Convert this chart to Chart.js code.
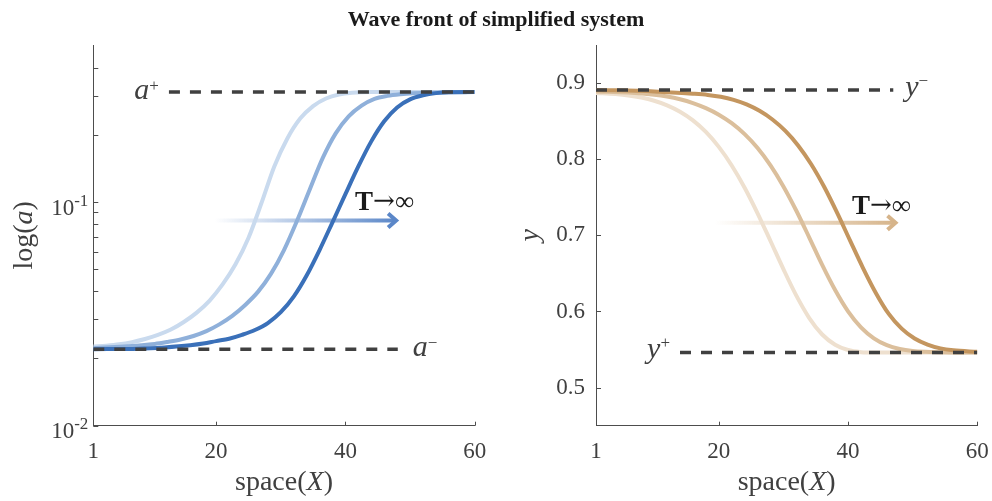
<!DOCTYPE html>
<html>
<head>
<meta charset="utf-8">
<script src="https://cdn.jsdelivr.net/npm/chart.js@4.4.1/dist/chart.umd.min.js"></script>
<style>
  html, body { margin: 0; padding: 0; background: #fff; }
  #wrap { position: relative; width: 992px; height: 501px; overflow: hidden; }
  #title {
    position: absolute; left: 0; top: 8px; width: 992px; text-align: center;
    font: bold 22px/22px "Liberation Serif", serif; color: #1a1a1a;
  }
  .panel { position: absolute; top: 0; width: 496px; height: 501px; }
</style>
</head>
<body>
<div id="wrap">
  <div class="panel" style="left:0"><canvas id="left" width="496" height="501"></canvas></div>
  <div class="panel" style="left:496px"><canvas id="right" width="496" height="501"></canvas></div>
  <div id="title">Wave front of simplified system</div>
</div>
<script>
// axis ticks
const xTicks = [1, 20, 40, 60];
const aTicks = [0.01, 0.02, 0.03, 0.04, 0.05, 0.06, 0.07, 0.08, 0.09, 0.1, 0.2, 0.3, 0.4];
const aLabelled = [0.01, 0.1];
const yTicks = [0.5, 0.6, 0.7, 0.8, 0.9];

// steady states
const aPlus = 0.311, aPlusSpan = [12.7, 60];
const aMinus = 0.022, aMinusSpan = [1, 48.1];
const yMinus = 0.891, yMinusSpan = [1, 47];
const yPlus = 0.546, yPlusSpan = [14, 60];

// log(a) fronts, late -> early
const blueDarkX = [1, 8, 12, 16, 18, 20, 22, 24, 26, 28, 30, 32, 34, 36, 38, 40, 42, 44, 46, 48, 50, 52, 54, 56, 60];
const blueDarkA = [0.0220, 0.0221, 0.0224, 0.0229, 0.0233, 0.0239, 0.0245, 0.0255, 0.0268, 0.0288, 0.0322, 0.0378, 0.0470, 0.0611, 0.0813, 0.1086, 0.1445, 0.1871, 0.2301, 0.2655, 0.2884, 0.3006, 0.3076, 0.3105, 0.311];
const blueMidX = [1, 8.5, 10.5, 12.5, 14.5, 16.5, 18.5, 20.5, 22.5, 24.5, 26.5, 28.5, 30.5, 32.5, 34.5, 36.5, 38.5, 40.5, 42.5, 44.5, 46.5, 48.5, 50.5, 53, 56, 60];
const blueMidA = [0.0222, 0.0229, 0.0232, 0.0237, 0.0243, 0.0252, 0.0265, 0.0284, 0.0310, 0.0347, 0.0398, 0.0479, 0.0611, 0.0824, 0.1143, 0.1578, 0.2032, 0.2421, 0.2704, 0.2900, 0.2990, 0.3040, 0.3070, 0.3090, 0.3100, 0.311];
const blueLightX = [1, 3, 5, 7, 9, 11, 13, 15, 17, 19, 21, 23, 25, 27, 29, 31, 33, 35, 37, 39, 41, 44, 60];
const blueLightA = [0.02259, 0.02280, 0.02312, 0.02366, 0.02443, 0.02547, 0.02692, 0.02911, 0.03206, 0.03631, 0.04285, 0.05272, 0.06918, 0.09886, 0.1445, 0.1923, 0.2366, 0.2692, 0.2911, 0.3034, 0.3090, 0.311, 0.311];

// y fronts, late -> early
const brownDarkX = [1, 10, 16, 18.3, 20.3, 22.3, 24.3, 26.3, 28.3, 30.3, 32.3, 34.3, 36.3, 38.3, 40.3, 42.3, 44.3, 46.3, 48.3, 50.3, 52.3, 54.3, 56.3, 60];
const brownDarkY = [0.891, 0.889, 0.886, 0.8844, 0.8820, 0.8780, 0.8720, 0.8636, 0.8522, 0.8372, 0.8178, 0.7934, 0.7638, 0.7298, 0.6934, 0.6574, 0.6244, 0.5968, 0.5775, 0.5645, 0.5565, 0.5515, 0.5490, 0.547];
const brownMidX = [1, 6, 10, 12, 14, 16, 18, 20, 22, 24, 26, 28, 30, 32, 34, 36, 38, 40, 42, 44, 46, 48, 50, 52, 56, 60];
const brownMidY = [0.889, 0.8875, 0.8847, 0.8823, 0.8787, 0.8737, 0.8671, 0.8585, 0.8473, 0.8329, 0.8147, 0.7919, 0.7643, 0.7323, 0.6971, 0.6611, 0.6281, 0.6001, 0.5791, 0.5647, 0.5557, 0.5507, 0.5481, 0.5470, 0.5462, 0.546];
const brownLightX = [1, 4, 6, 8, 10, 12, 14, 16, 18, 20, 22, 24, 26, 28, 30, 32, 34, 36, 38, 40, 42, 44, 60];
const brownLightY = [0.887, 0.8855, 0.8838, 0.8810, 0.8768, 0.8708, 0.8624, 0.8510, 0.8358, 0.8162, 0.7918, 0.7626, 0.7290, 0.6926, 0.6556, 0.6208, 0.5914, 0.5698, 0.5564, 0.5494, 0.5466, 0.546, 0.546];

// arrow "T -> inf" placement (data units)
const arrowLeft = { from: 19.8, to: 48, level: 0.0828, labelX: 41.5, labelLevel: 0.0918 };
const arrowRight = { from: 19.4, to: 47.5, level: 0.7166, labelX: 40.6, labelLevel: 0.728 };

const SERIF = '"Liberation Serif", "Times New Roman", serif';
const textColor = "#404040";
const axisColor = "#4d4d4d";
const dashColor = "#404040";

function curve(xs, ys, color) {
    return {
        data: xs.map((x, i) => ({ x: x, y: ys[i] })),
        borderColor: color,
        borderWidth: 4,
        pointRadius: 0,
        cubicInterpolationMode: "monotone",
    };
}

function dashed(span, level) {
    return {
        data: span.map((x) => ({ x: x, y: level })),
        borderColor: dashColor,
        borderWidth: 3.5,
        borderDash: [11, 10],
        borderCapStyle: "butt",
        pointRadius: 0,
    };
}

// draws a run of text pieces with their own fonts, returns total width
function drawRich(ctx, parts, x, y, align) {
    let total = 0;
    parts.forEach((p) => { ctx.font = p.font; total += ctx.measureText(p.text).width; });
    let cx = align === "center" ? x - total / 2 : align === "right" ? x - total : x;
    ctx.textAlign = "left";
    ctx.textBaseline = "alphabetic";
    parts.forEach((p) => {
        ctx.font = p.font;
        ctx.fillStyle = p.color || textColor;
        ctx.fillText(p.text, cx, y + (p.dy || 0));
        cx += ctx.measureText(p.text).width;
    });
    return total;
}

function drawInnerTicks(chart, yValues) {
    const { ctx, chartArea, scales } = chart;
    ctx.save();
    ctx.strokeStyle = axisColor;
    ctx.lineWidth = 1;
    ctx.beginPath();
    xTicks.forEach((v) => {
        const px = Math.round(scales.x.getPixelForValue(v)) + 0.5;
        ctx.moveTo(px, chartArea.bottom);
        ctx.lineTo(px, chartArea.bottom - 4);
    });
    yValues.forEach((v) => {
        const py = Math.round(scales.y.getPixelForValue(v)) + 0.5;
        ctx.moveTo(chartArea.left, py);
        ctx.lineTo(chartArea.left + 5, py);
    });
    ctx.stroke();
    ctx.restore();
}

function drawArrow(chart, arrow, rgb) {
    const { ctx, scales } = chart;
    const x0 = scales.x.getPixelForValue(arrow.from);
    const x1 = scales.x.getPixelForValue(arrow.to);
    const py = scales.y.getPixelForValue(arrow.level);
    ctx.save();
    const g = ctx.createLinearGradient(x0, 0, x1, 0);
    g.addColorStop(0, "rgba(" + rgb + ",0)");
    g.addColorStop(1, "rgba(" + rgb + ",1)");
    ctx.strokeStyle = g;
    ctx.lineWidth = 4;
    ctx.beginPath();
    ctx.moveTo(x0, py);
    ctx.lineTo(x1 - 2, py);
    ctx.stroke();
    ctx.strokeStyle = "rgb(" + rgb + ")";
    ctx.lineJoin = "miter";
    ctx.beginPath();
    ctx.moveTo(x1 - 9, py - 7);
    ctx.lineTo(x1 - 1, py);
    ctx.lineTo(x1 - 9, py + 7);
    ctx.stroke();
    ctx.restore();
}

function drawTLabel(chart, arrow) {
    const { ctx, scales } = chart;
    const px = scales.x.getPixelForValue(arrow.labelX);
    const py = scales.y.getPixelForValue(arrow.labelLevel);
    ctx.save();
    drawRich(ctx, [
        { text: "T", font: "bold 27px " + SERIF, color: "#1a1a1a" },
        { text: "\u2192", font: '26px "DejaVu Serif", serif', color: "#1a1a1a", dy: -1 },
        { text: "\u221E", font: "27px " + SERIF, color: "#1a1a1a" },
    ], px, py, "left");
    ctx.restore();
}

const mainItalic = "italic 30px " + SERIF;
const supFont = "17px " + SERIF;
const titleFont = "28px " + SERIF;
const titleItalic = "italic 28px " + SERIF;

function drawXTitle(chart) {
    const { ctx, chartArea } = chart;
    ctx.save();
    drawRich(ctx, [
        { text: "space(", font: titleFont },
        { text: "X", font: titleItalic },
        { text: ")", font: titleFont },
    ], (chartArea.left + chartArea.right) / 2, 490, "center");
    ctx.restore();
}

const baseOptions = (yScale, padRight, yWidth) => ({
    responsive: false,
    animation: false,
    devicePixelRatio: 1,
    layout: { padding: { top: 45, right: padRight, left: 0, bottom: 0 } },
    plugins: { legend: { display: false }, tooltip: { enabled: false } },
    scales: {
        x: {
            type: "linear",
            min: 1,
            max: 60,
            afterBuildTicks: (s) => { s.ticks = xTicks.map((v) => ({ value: v })); },
            afterFit: (s) => {
                s.height = 75.3;
                s.paddingLeft = 0;
                s.paddingRight = 0;
            },
            grid: { display: false, drawTicks: false },
            border: { color: axisColor, width: 1 },
            ticks: {
                color: textColor,
                font: { family: SERIF, size: 23 },
                padding: 12,
                maxRotation: 0,
                autoSkip: false,
            },
        },
        y: Object.assign(yScale, {
            afterFit: (s) => {
                s.width = yWidth;
                s.paddingTop = 0;
                s.paddingBottom = 0;
            },
            grid: { display: false, drawTicks: false },
            border: { color: axisColor, width: 1 },
        }),
    },
});

// left panel: log(a)
const leftPanel = {
    id: "leftPanel",
    beforeDatasetsDraw(chart) {
        drawArrow(chart, arrowLeft, "91,135,200");
    },
    afterDraw(chart) {
        const { ctx, chartArea, scales } = chart;
        drawInnerTicks(chart, aTicks);
        ctx.save();
        // decade labels 10^-2, 10^-1
        aLabelled.forEach((v) => {
            const py = scales.y.getPixelForValue(v);
            const exp = String(Math.round(Math.log10(v)));
            drawRich(ctx, [
                { text: "10", font: "23px " + SERIF },
                { text: exp, font: "17px " + SERIF, dy: -9 },
            ], chartArea.left - 5, py + 12.5, "right");
        });
        // steady state labels
        const yp = scales.y.getPixelForValue(aPlus);
        drawRich(ctx, [
            { text: "a", font: mainItalic },
            { text: "+", font: supFont, dy: -8 },
        ], scales.x.getPixelForValue(aPlusSpan[0]) - 10, yp + 7, "right");
        const ym = scales.y.getPixelForValue(aMinus);
        drawRich(ctx, [
            { text: "a", font: mainItalic },
            { text: "\u2212", font: supFont, dy: -8 },
        ], scales.x.getPixelForValue(aMinusSpan[1]) + 15, ym + 7, "left");
        // axis titles
        drawXTitle(chart);
        ctx.translate(32, (chartArea.top + chartArea.bottom) / 2);
        ctx.rotate(-Math.PI / 2);
        drawRich(ctx, [
            { text: "log(", font: titleFont },
            { text: "a", font: titleItalic },
            { text: ")", font: titleFont },
        ], 0, 0, "center");
        ctx.restore();
        drawTLabel(chart, arrowLeft);
    },
};

new Chart(document.getElementById("left"), {
    type: "line",
    data: {
        datasets: [
            dashed(aPlusSpan, aPlus),
            dashed(aMinusSpan, aMinus),
            curve(blueDarkX, blueDarkA, "#3a70b9"),
            curve(blueMidX, blueMidA, "#8fb0da"),
            curve(blueLightX, blueLightA, "#c9daee"),
        ],
    },
    options: baseOptions({
        type: "logarithmic",
        min: 0.01,
        max: 0.505,
        afterBuildTicks: (s) => { s.ticks = aTicks.map((v) => ({ value: v })); },
        ticks: { display: false },
    }, 21.3, 93.3),
    plugins: [leftPanel],
});

// right panel: y
const rightPanel = {
    id: "rightPanel",
    beforeDatasetsDraw(chart) {
        drawArrow(chart, arrowRight, "214,180,138");
    },
    afterDraw(chart) {
        const { ctx, chartArea, scales } = chart;
        drawInnerTicks(chart, yTicks);
        ctx.save();
        const ym = scales.y.getPixelForValue(yMinus);
        drawRich(ctx, [
            { text: "y", font: mainItalic },
            { text: "\u2212", font: supFont, dy: -10 },
        ], scales.x.getPixelForValue(yMinusSpan[1]) + 12, ym + 6, "left");
        const yp = scales.y.getPixelForValue(yPlus);
        drawRich(ctx, [
            { text: "y", font: mainItalic },
            { text: "+", font: supFont, dy: -10 },
        ], scales.x.getPixelForValue(yPlusSpan[0]) - 10, yp + 5, "right");
        drawXTitle(chart);
        ctx.translate(42, (chartArea.top + chartArea.bottom) / 2);
        ctx.rotate(-Math.PI / 2);
        drawRich(ctx, [{ text: "y", font: titleItalic }], 0, 0, "center");
        ctx.restore();
        drawTLabel(chart, arrowRight);
    },
};

new Chart(document.getElementById("right"), {
    type: "line",
    data: {
        datasets: [
            dashed(yMinusSpan, yMinus),
            dashed(yPlusSpan, yPlus),
            curve(brownDarkX, brownDarkY, "#c4965f"),
            curve(brownMidX, brownMidY, "#dbbf9c"),
            curve(brownLightX, brownLightY, "#eee0cf"),
        ],
    },
    options: baseOptions({
        type: "linear",
        min: 0.45,
        max: 0.95,
        afterBuildTicks: (s) => { s.ticks = yTicks.map((v) => ({ value: v })); },
        ticks: {
            color: textColor,
            font: { family: SERIF, size: 23 },
            padding: 11,
            callback: (v) => Number(v).toFixed(1),
        },
    }, 14.7, 100),
    plugins: [rightPanel],
});
</script>
</body>
</html>
